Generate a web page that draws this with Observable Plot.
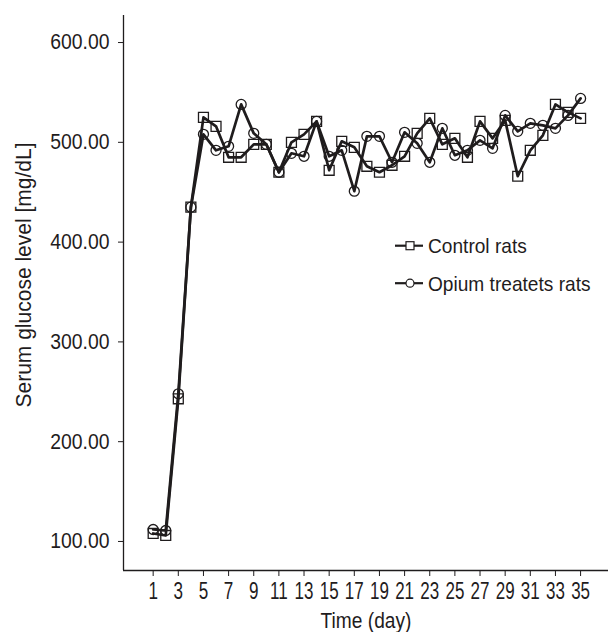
<!DOCTYPE html>
<html><head><meta charset="utf-8">
<script src="https://cdn.jsdelivr.net/npm/d3@7"></script>
<script src="https://cdn.jsdelivr.net/npm/@observablehq/plot@0.6"></script>
<style>
body{margin:0;background:#fff;}
#wrap{position:relative;width:609px;height:632px;}
#wrap svg text{font-family:"Liberation Sans",Arial,sans-serif;}
#legend{position:absolute;left:390px;top:230px;}
</style></head><body><div id="wrap"></div>
<script>
const days = [1,2,3,4,5,6,7,8,9,10,11,12,13,14,15,16,17,18,19,20,21,22,23,24,25,26,27,28,29,30,31,32,33,34,35];
const controlRats = [108,106,243,435,525,516,485,485,498,498,470,500,508,521,472,501,495,476,470,477,486,509,524,498,504,485,521,504,522,466,492,507,538,530,524];
const opiumRats   = [112,111,248,435,508,492,496,538,509,498,470,489,486,521,486,492,451,506,506,480,510,499,480,514,487,492,502,494,527,511,519,517,514,527,544];
const seriesNames = ["Control rats","Opium treatets rats"];
const xTicks = [1,3,5,7,9,11,13,15,17,19,21,23,25,27,29,31,33,35];
const yTicks = [100,200,300,400,500,600];
const yTitle = "Serum glucose level [mg/dL]";
const xTitle = "Time (day)";

const rows = [];
days.forEach((d,i)=>{
  rows.push({day:d, value:controlRats[i], series:seriesNames[0]});
  rows.push({day:d, value:opiumRats[i], series:seriesNames[1]});
});
const ctrl = rows.filter(r=>r.series===seriesNames[0]);
const opi = rows.filter(r=>r.series===seriesNames[1]);
const xDom = [-1.36, 37.22], yDom = [70.9, 627.1];
const ink = "#1f1c1d";

const chart = Plot.plot({
  width: 609, height: 632,
  marginLeft: 123, marginRight: 1, marginTop: 15, marginBottom: 62,
  style: {fontSize: "21px", color: ink, background: "#fff"},
  x: {domain: xDom},
  y: {domain: yDom},
  marks: [
    Plot.ruleX([xDom[0]], {stroke: ink, strokeWidth: 1.3}),
    Plot.ruleY([yDom[0]], {stroke: ink, strokeWidth: 1.3}),
    Plot.axisY({ticks: yTicks, tickFormat: d3.format(".2f"), tickSize: 5, tickPadding: 9, stroke: ink, label: null, fontSize: 21.5}),
    Plot.axisX({ticks: xTicks, tickFormat: d=>String(d), tickSize: 6, tickPadding: 6, stroke: ink, label: null, fontSize: 23}),
    Plot.text([xTitle], {text: d=>d, frameAnchor: "bottom", textAnchor: "middle", lineAnchor: "bottom", dy: 57, fontSize: 22, fill: ink}),
    Plot.text([yTitle], {text: d=>d, frameAnchor: "left", textAnchor: "middle", lineAnchor: "middle", rotate: -90, dx: -100, dy: -18, fontSize: 22, fill: ink}),
    Plot.line(ctrl, {x: "day", y: "value", stroke: ink, strokeWidth: 2.7}),
    Plot.line(opi, {x: "day", y: "value", stroke: ink, strokeWidth: 2.7}),
    Plot.dot(ctrl, {x: "day", y: "value", symbol: "square", r: 5.6, stroke: ink, strokeWidth: 1.3, fill: "none"}),
    Plot.dot(opi, {x: "day", y: "value", symbol: "circle", r: 5, stroke: ink, strokeWidth: 1.3, fill: "none"})
  ]
});
const wrap = document.getElementById("wrap");
wrap.appendChild(chart);

// legend
const ns = "http://www.w3.org/2000/svg";
const leg = document.createElementNS(ns, "svg");
leg.setAttribute("id","legend");
leg.setAttribute("width","219");
leg.setAttribute("height","72");
let html = "";
seriesNames.forEach((name,i)=>{
  const cy = 15.7 + i*37.5;
  html += `<line x1="5" y1="${cy}" x2="33" y2="${cy}" stroke="${ink}" stroke-width="2.2"/>`;
  html += i===0
    ? `<rect x="16" y="${cy-4}" width="8" height="8" fill="#fff" stroke="${ink}" stroke-width="1.2"/>`
    : `<circle cx="20" cy="${cy}" r="4" fill="#fff" stroke="${ink}" stroke-width="1.2"/>`;
  html += `<text x="38" y="${cy+7.7}" font-size="21" fill="${ink}" font-family="Liberation Sans, Arial, sans-serif">${name}</text>`;
});
leg.innerHTML = html;
wrap.appendChild(leg);

// condense the text horizontally (the reference uses a condensed face)
function fitText(t, factor){
  const L = t.getComputedTextLength();
  if (!L) return;
  t.setAttribute("textLength", (L*factor).toFixed(1));
  t.setAttribute("lengthAdjust","spacingAndGlyphs");
}
const yTickSet = new Set(yTicks.map(d3.format(".2f")));
const xTickSet = new Set(xTicks.map(String));
chart.querySelectorAll("text").forEach(t=>{
  const s = t.textContent;
  if (s === xTitle) fitText(t, 0.87);
  else if (s === yTitle) fitText(t, 0.955);
  else if (yTickSet.has(s)) fitText(t, 0.9);
  else if (xTickSet.has(s)) fitText(t, 0.74);
});
leg.querySelectorAll("text").forEach(t=>fitText(t, 0.91));
</script>
</body></html>
